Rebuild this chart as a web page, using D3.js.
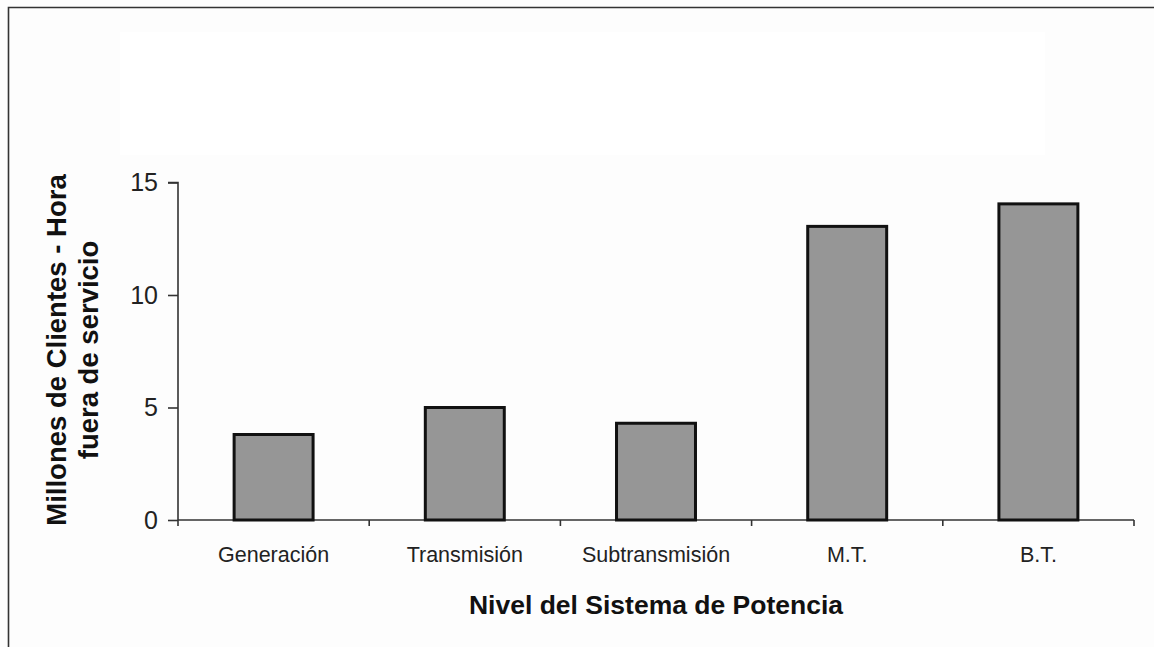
<!DOCTYPE html>
<html>
<head>
<meta charset="utf-8">
<script src="https://cdn.jsdelivr.net/npm/d3@7"></script>
<style>
  body { margin: 0; background: #fdfdfd; }
  text { font-family: "Liberation Sans", Arial, sans-serif; }
</style>
</head>
<body>
<div id="chart"></div>
<script>
// data
var categories = ["Generación", "Transmisión", "Subtransmisión", "M.T.", "B.T."];
var values = [3.8, 5.0, 4.3, 13.05, 14.05];
var yTicks = [0, 5, 10, 15];

var W = 1154, H = 647;
var margin = {top: 182.5, right: 20, bottom: 127, left: 178},
    width = 1134 - margin.left,
    height = H - margin.top - margin.bottom;

var svg = d3.select("#chart")
  .append("svg")
    .attr("width", W)
    .attr("height", H);

// faint lighter panel behind the top area
svg.append("rect")
  .attr("x", 120).attr("y", 32)
  .attr("width", 925).attr("height", 123)
  .attr("fill", "#ffffff");

// frame (left + top lines only)
svg.append("path")
  .attr("d", "M8.5,647 L8.5,7.5 L1154,7.5")
  .attr("fill", "none")
  .attr("stroke", "#333")
  .attr("stroke-width", 1.6);

var g = svg.append("g")
  .attr("transform", "translate(" + margin.left + "," + margin.top + ")");

var x = d3.scaleBand()
  .domain(categories)
  .range([0, width])
  .paddingInner(0.587)
  .paddingOuter(0.2935);

var y = d3.scaleLinear()
  .domain([0, 15])
  .range([height, 0]);

// Y axis
var yAxis = g.append("g")
  .call(d3.axisLeft(y).tickValues(yTicks).tickSize(10).tickPadding(10));
yAxis.select(".domain").attr("stroke", "#333").attr("stroke-width", 1.6)
  .attr("d", "M-10,0H0V" + (height + 6));
yAxis.selectAll(".tick line").attr("stroke", "#333").attr("stroke-width", 1.6);
yAxis.selectAll(".tick text")
  .attr("font-size", 25)
  .attr("fill", "#222");

// X axis line with ticks at the category boundaries
var bounds = d3.range(categories.length + 1).map(function(i) { return i * x.step(); });
g.append("line")
  .attr("x1", 0).attr("x2", width)
  .attr("y1", y(0)).attr("y2", y(0))
  .attr("stroke", "#333").attr("stroke-width", 1.6);
g.selectAll(".btick")
  .data(bounds.slice(1))
  .enter()
  .append("line")
    .attr("x1", function(d) { return d; })
    .attr("x2", function(d) { return d; })
    .attr("y1", y(0))
    .attr("y2", y(0) + 6)
    .attr("stroke", "#333").attr("stroke-width", 1.6);

// category labels
var xAxis = g.append("g")
  .attr("transform", "translate(0," + height + ")")
  .call(d3.axisBottom(x).tickSize(0).tickPadding(27));
xAxis.select(".domain").remove();
xAxis.selectAll(".tick text")
  .attr("font-size", 21.5)
  .attr("fill", "#222");

// Bars
g.selectAll("myRect")
  .data(values)
  .enter()
  .append("rect")
    .attr("x", function(d, i) { return x(categories[i]); })
    .attr("y", function(d) { return y(d); })
    .attr("width", x.bandwidth())
    .attr("height", function(d) { return y(0) - y(d); })
    .attr("fill", "#969696")
    .attr("stroke", "#111")
    .attr("stroke-width", 3);

// X title
svg.append("text")
  .attr("x", margin.left + width / 2)
  .attr("y", 614)
  .attr("text-anchor", "middle")
  .attr("font-size", 26.5)
  .attr("font-weight", "bold")
  .attr("fill", "#111")
  .text("Nivel del Sistema de Potencia");

// Y title (two lines)
var yt = svg.append("text")
  .attr("transform", "translate(66," + 350 + ") rotate(-90)")
  .attr("text-anchor", "middle")
  .attr("font-size", 27.5)
  .attr("font-weight", "bold")
  .attr("fill", "#111");
yt.append("tspan").attr("x", 0).attr("y", 0).text("Millones de Clientes - Hora");
yt.append("tspan").attr("x", 0).attr("y", 32).text("fuera de servicio");
</script>
</body>
</html>
